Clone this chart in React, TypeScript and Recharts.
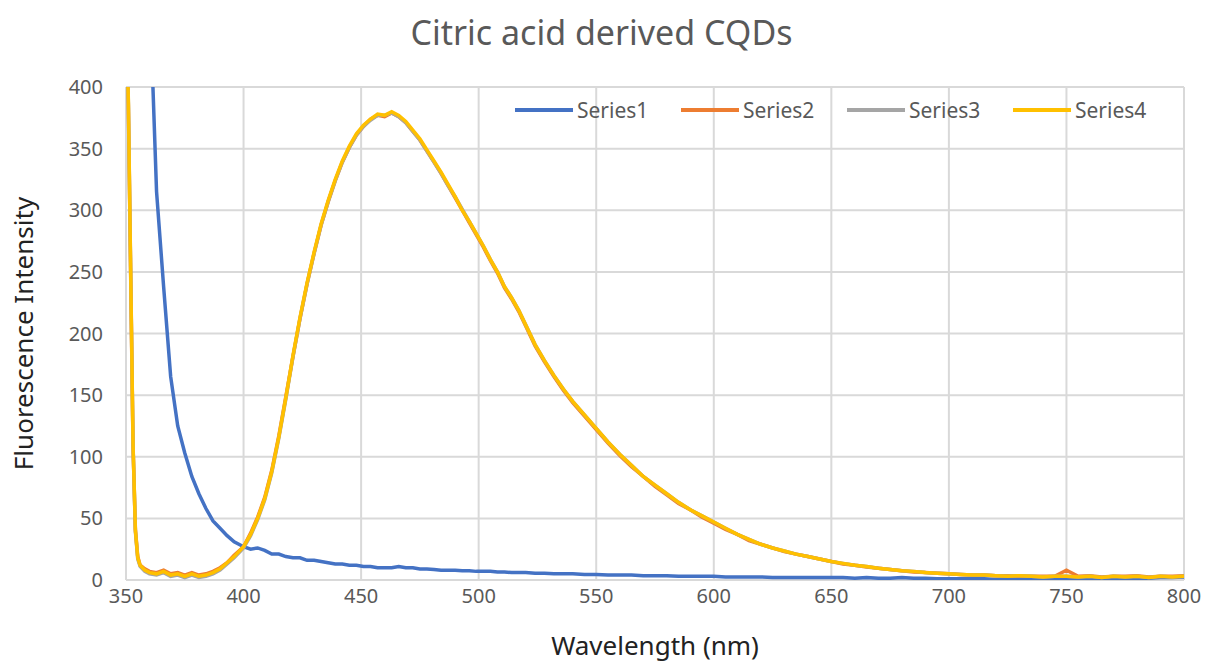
import React from 'react';
import { CartesianGrid, Legend, Line, LineChart, XAxis, YAxis } from 'recharts';

const FONT = '"Noto Sans", "Open Sans", sans-serif';

// wavelength grid (nm), finer where the curves change fast
const wavelengths = [
  350, 351, 352, 353, 354, 355, 356, 358, 360,
  363, 366, 369, 372, 375, 378, 381, 384, 387, 390, 393, 396, 400,
  403, 406, 409, 412, 415, 418, 421, 424, 427, 430, 433, 436, 439, 442, 445, 448, 451, 454, 457, 460,
  463, 466, 469, 472, 475, 478, 481, 484, 487, 490, 493, 496, 499, 502, 505, 508, 511, 514, 517, 520,
  524, 528, 532, 536,
  540, 545, 550, 555, 560, 565, 570, 575, 580, 585, 590, 595, 600, 605, 610, 615, 620, 625, 630, 635,
  640, 645, 650, 655, 660, 665, 670, 675, 680, 685, 690, 695, 700, 705, 710, 715, 720, 725, 730, 735,
  740, 745, 750, 755, 760, 765, 770, 775, 780, 785, 790, 795, 800,
];

const series1 = [
  1500, 1400, 1300, 1200, 1100, 1000, 900, 700, 480,
  315, 238, 165, 125, 103, 84, 70, 58, 48, 42, 36, 31, 27,
  25, 26, 24, 21, 21, 19, 18, 18, 16, 16, 15, 14, 13, 13, 12, 12, 11, 11, 10, 10,
  10, 11, 10, 10, 9, 9, 8.5, 8, 8, 8, 7.5, 7.5, 7, 7, 7, 6.5, 6.5, 6, 6, 6,
  5.5, 5.5, 5, 5,
  5, 4.5, 4.5, 4, 4, 4, 3.5, 3.5, 3.5, 3, 3, 3, 3, 2.5, 2.5, 2.5, 2.5, 2, 2, 2,
  2, 2, 2, 2, 1.5, 2, 1.5, 1.5, 2, 1.5, 1.5, 1, 1, 1, 1, 1, 0.5, 1, 1, 0.5,
  1, 1, 1, 1, 1, 1, 1.5, 1, 1.5, 1.5, 2, 2, 2.5,
];

const series2 = [
  455, 385, 245, 108, 41, 19, 12, 9, 7,
  6, 8, 5, 6, 4, 6, 4, 5, 7, 10, 14, 20, 27,
  38, 51, 67, 89, 117, 149, 181, 212, 240, 265, 288, 307, 324, 339, 351, 361, 368, 374, 377, 376,
  379, 376, 371, 364, 357, 348, 339, 330, 320, 310, 300, 290, 280, 270, 259, 249, 237, 228, 218, 206,
  190, 177, 165, 154,
  144, 133, 122, 111, 101, 92, 84, 76, 69, 62, 57, 51, 46, 41, 37, 32, 29, 26, 23, 21,
  19, 17, 15, 13, 12, 10.5, 9.5, 8.5, 7.5, 6.5, 6, 5.5, 5, 4.5, 4, 4, 3.5, 3.5, 3, 3,
  3, 3, 8, 3, 3.5, 2.5, 3, 3, 3.5, 2.5, 3, 3, 3.5,
];

const series3 = [
  458, 388, 248, 109, 39, 17, 11, 7, 5,
  4, 6, 3, 4, 2, 4, 2, 3, 5, 8, 13, 18, 26,
  36, 49, 65, 87, 115, 147, 181, 212, 240, 265, 288, 307, 324, 339, 351, 361, 368, 373, 377, 377,
  379, 376, 371, 364, 357, 348, 339, 330, 320, 311, 301, 291, 281, 271, 260, 250, 238, 229, 219, 207,
  191, 178, 166, 155,
  145, 134, 123, 112, 102, 93, 84, 77, 70, 63, 57, 52, 47, 42, 37, 33, 29, 26, 23.5, 21,
  19, 17, 15, 13.5, 12, 11, 9.5, 8.5, 7.5, 7, 6, 5.5, 5, 4.5, 4, 4, 3.5, 3, 3.5, 3,
  2.5, 3, 3, 2.5, 3, 2, 3, 2.5, 3, 2, 3, 2.5, 3,
];

const series4 = [
  460, 390, 250, 110, 40, 18, 12, 8, 6,
  5, 7, 4, 5, 3, 5, 3, 4, 6, 9, 14, 19, 27,
  37, 50, 66, 88, 116, 148, 182, 213, 241, 266, 289, 308, 325, 340, 352, 362, 369, 374, 378, 377,
  380, 377, 372, 365, 358, 349, 340, 331, 321, 311, 300, 291, 281, 271, 260, 250, 238, 229, 219, 207,
  191, 178, 166, 155,
  145, 134, 123, 112, 102, 93, 84, 77, 70, 63, 57, 52, 47, 42, 37, 33, 29, 26, 23.5, 21,
  19, 17, 15, 13.5, 12, 11, 9.5, 8.5, 7.5, 7, 6, 5.5, 5, 4.5, 4, 4, 3.5, 3, 3.5, 3,
  2.5, 3, 3, 2.5, 3, 2, 3, 2.5, 3, 2, 3, 2.5, 3,
];

const xTicks = [350, 400, 450, 500, 550, 600, 650, 700, 750, 800];
const yTicks = [0, 50, 100, 150, 200, 250, 300, 350, 400];

const SERIES = [
  { key: 'Series1', color: '#4472C4' },
  { key: 'Series2', color: '#ED7D31' },
  { key: 'Series3', color: '#A5A5A5' },
  { key: 'Series4', color: '#FFC000' },
];

const rows = wavelengths.map((nm, i) => ({
  nm,
  Series1: series1[i],
  Series2: series2[i],
  Series3: series3[i],
  Series4: series4[i],
}));

function LegendRow() {
  return (
    <div style={{ display: 'flex', fontFamily: FONT, fontSize: 21, color: '#595959' }}>
      {SERIES.map((s) => (
        <div key={s.key} style={{ display: 'flex', alignItems: 'center', width: 166 }}>
          <span style={{ display: 'inline-block', width: 58, height: 3.5, background: s.color, marginRight: 4 }} />
          <span style={{ lineHeight: '24px' }}>{s.key}</span>
        </div>
      ))}
    </div>
  );
}

export default function App() {
  return (
    <div style={{ position: 'absolute', left: 0, top: 0, width: 1210, height: 666, background: '#fff' }}>
      <div
        style={{
          position: 'absolute',
          top: 10,
          left: 0,
          width: 1203,
          textAlign: 'center',
          fontFamily: FONT,
          fontSize: 34,
          lineHeight: '44px',
          color: '#595959',
        }}
      >
        Citric acid derived CQDs
      </div>
      <LineChart width={1210} height={666} data={rows} margin={{ top: 87, right: 26, bottom: 0, left: 0 }}>
        <CartesianGrid stroke="#d9d9d9" strokeWidth={2} />
        <XAxis
          dataKey="nm"
          type="number"
          domain={[350, 800]}
          ticks={xTicks}
          allowDataOverflow
          height={86}
          axisLine={false}
          tickLine={false}
          tickMargin={3}
          tick={{ fill: '#595959', fontSize: 20, fontFamily: FONT }}
          label={{
            value: 'Wavelength (nm)',
            position: 'insideBottom',
            offset: 11,
            style: { fill: '#222', fontSize: 26, fontFamily: FONT },
          }}
        />
        <YAxis
          type="number"
          domain={[0, 400]}
          ticks={yTicks}
          allowDataOverflow
          width={126}
          axisLine={false}
          tickLine={false}
          tickMargin={17}
          tick={{ fill: '#595959', fontSize: 20, fontFamily: FONT }}
          label={{
            value: 'Fluorescence Intensity',
            angle: -90,
            position: 'insideLeft',
            offset: 24,
            style: { fill: '#222', fontSize: 26, fontFamily: FONT, textAnchor: 'middle' },
          }}
        />
        <Legend
          content={() => <LegendRow />}
          wrapperStyle={{ top: 98, left: 515, width: 'auto', height: 0, bottom: 'auto', overflow: 'visible' }}
        />
        {SERIES.map((s) => (
          <Line
            key={s.key}
            type="linear"
            dataKey={s.key}
            stroke={s.color}
            strokeWidth={3.5}
            dot={false}
            activeDot={false}
            isAnimationActive={false}
          />
        ))}
      </LineChart>
    </div>
  );
}
